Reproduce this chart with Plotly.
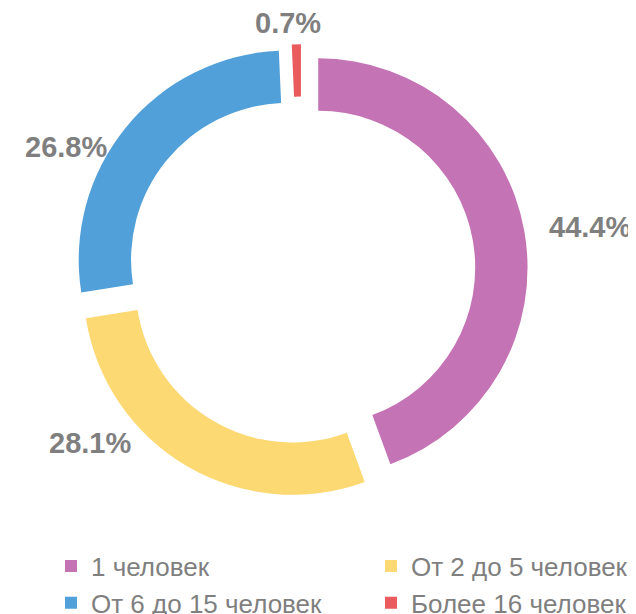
import plotly.graph_objects as go

labels = ["1 человек", "От 2 до 5 человек", "От 6 до 15 человек", "Более 16 человек"]
values = [44.4, 28.1, 26.8, 0.7]
colors = ["#C473B4", "#FDD974", "#51A0D9", "#EA5B5D"]

# placement of the percentage labels (paper coords, x, y), as in the original layout
label_pos = [(0.9151, 0.6433), (0.1289, 0.2915), (0.0912, 0.7744), (0.4410, 0.9756)]

fig = go.Figure(go.Pie(
    labels=labels, values=values, sort=False, direction="clockwise", rotation=0,
    hole=0.75, pull=[0.082] * len(values),
    marker=dict(colors=colors, line=dict(width=0)),
    textinfo="none", hoverinfo="label+percent",
    domain=dict(x=[0.1051, 0.8173], y=[0.2033, 0.9411]),
    showlegend=True,
))

for v, (px, py) in zip(values, label_pos):
    fig.add_annotation(
        x=px, y=py, xref="paper", yref="paper", text=f"{v:.1f}%", showarrow=False,
        xanchor="center", yanchor="middle",
        font=dict(family="Arial, Liberation Sans", size=29, color="#7F7F7F", weight="bold"),
    )

fig.update_layout(
    width=636, height=614, margin=dict(l=0, r=0, t=0, b=0, autoexpand=False),
    paper_bgcolor="white",
    legend=dict(orientation="h", x=0.0676, y=0.1295, xanchor="left", yanchor="top",
                entrywidth=275, entrywidthmode="pixels", itemclick=False,
                font=dict(family="Arial, Liberation Sans", size=26, color="#7F7F7F")),
)
fig.write_html("out.html")
